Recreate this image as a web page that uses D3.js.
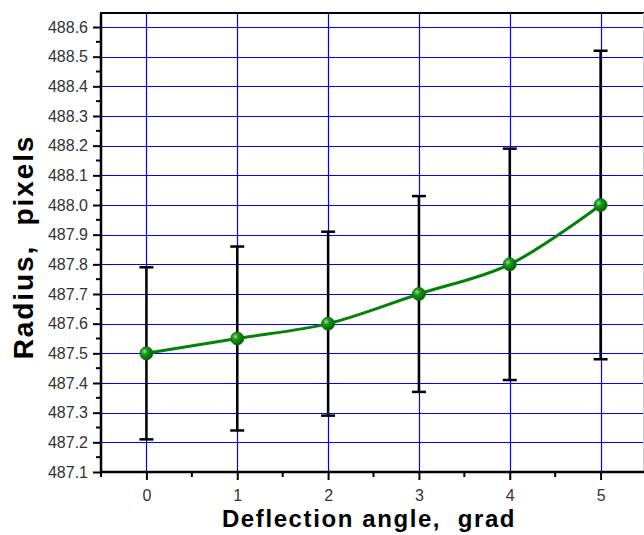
<!DOCTYPE html>
<html><head><meta charset="utf-8">
<script src="https://cdn.jsdelivr.net/npm/d3@7"></script>
<style>html,body{margin:0;padding:0;background:#fff;overflow:hidden}</style>
</head><body><svg id="c" width="644" height="535"></svg>
<script>
const angles = [0, 1, 2, 3, 4, 5];
const radius = [487.5, 487.55, 487.6, 487.7, 487.8, 488.0];
const errLow = [487.21, 487.24, 487.29, 487.37, 487.41, 487.48];
const errHigh = [487.79, 487.86, 487.91, 488.03, 488.19, 488.52];
const yTicks = [487.1, 487.2, 487.3, 487.4, 487.5, 487.6, 487.7, 487.8, 487.9, 488.0, 488.1, 488.2, 488.3, 488.4, 488.5, 488.6];
const xTicks = [0, 1, 2, 3, 4, 5];

const svg = d3.select("#c");
const x = d3.scaleLinear().domain([-0.5, 5.5]).range([101, 646]);
const y = d3.scaleLinear().domain([487.1, 488.6]).range([472, 27]);
const topY = 13;
const FONT = "Arial, 'Liberation Sans', sans-serif";

const defs = svg.append("defs");
const grad = defs.append("radialGradient").attr("id", "g").attr("cx", "35%").attr("cy", "35%").attr("r", "65%");
grad.append("stop").attr("offset", "0%").attr("stop-color", "#9fdc9f");
grad.append("stop").attr("offset", "35%").attr("stop-color", "#1e9a1e");
grad.append("stop").attr("offset", "100%").attr("stop-color", "#006400");

// grid
const grid = svg.append("g");
grid.selectAll("line.h").data(yTicks.slice(1)).join("line")
  .attr("x1", 101).attr("x2", 646).attr("y1", d => Math.round(y(d)) + 0.5).attr("y2", d => Math.round(y(d)) + 0.5)
  .attr("stroke", "#0000ff").attr("stroke-width", 1.2);
grid.selectAll("line.v").data(xTicks).join("line")
  .attr("y1", topY).attr("y2", 472).attr("x1", d => Math.round(x(d)) + 0.5).attr("x2", d => Math.round(x(d)) + 0.5)
  .attr("stroke", "#0000ff").attr("stroke-width", 1.2);

// frame
svg.append("line").attr("x1", 100).attr("x2", 646).attr("y1", topY).attr("y2", topY).attr("stroke", "#000").attr("stroke-width", 2);
svg.append("line").attr("x1", 643.5).attr("x2", 643.5).attr("y1", topY).attr("y2", 472).attr("stroke", "#ccc").attr("stroke-width", 1);

// y axis
const yAxis = d3.axisLeft(y).tickValues(yTicks).tickSize(8).tickPadding(5).tickFormat(d3.format(".1f"));
const ya = svg.append("g").attr("transform", "translate(101,0)").call(yAxis);
const yMinor = d3.range(487.15, 488.65, 0.1);
ya.selectAll("line.minor").data(yMinor).join("line").attr("class", "minor")
  .attr("x1", 0).attr("x2", -5).attr("y1", d => y(d)).attr("y2", d => y(d)).attr("stroke", "#000").attr("stroke-width", 2);
ya.select(".domain").attr("d", `M0,${topY}V472`).attr("stroke-width", 2.5);
ya.selectAll(".tick line").attr("stroke-width", 2);
ya.selectAll(".tick text").attr("font-family", FONT).attr("font-size", 16).attr("fill", "#333");

// x axis
const xAxis = d3.axisBottom(x).tickValues(xTicks).tickSize(8).tickPadding(10).tickFormat(d3.format("d"));
const xa = svg.append("g").attr("transform", "translate(0,472)").call(xAxis);
const xMinor = [-0.5, 0.5, 1.5, 2.5, 3.5, 4.5];
xa.selectAll("line.minor").data(xMinor).join("line").attr("class", "minor")
  .attr("y1", 0).attr("y2", 5).attr("x1", d => x(d)).attr("x2", d => x(d)).attr("stroke", "#000").attr("stroke-width", 2);
xa.select(".domain").attr("d", "M100,0H646").attr("stroke-width", 2.5);
xa.selectAll(".tick line").attr("stroke-width", 2);
xa.selectAll(".tick text").attr("font-family", FONT).attr("font-size", 16).attr("fill", "#333");

// error bars
const eb = svg.append("g").attr("stroke", "#000").attr("stroke-width", 2.5);
angles.forEach((a, i) => {
  const cx = x(a);
  eb.append("line").attr("x1", cx).attr("x2", cx).attr("y1", y(errLow[i])).attr("y2", y(errHigh[i]));
  eb.append("line").attr("x1", cx - 7).attr("x2", cx + 7).attr("y1", y(errLow[i])).attr("y2", y(errLow[i]));
  eb.append("line").attr("x1", cx - 7).attr("x2", cx + 7).attr("y1", y(errHigh[i])).attr("y2", y(errHigh[i]));
});

// line
const line = d3.line().x((d, i) => x(angles[i])).y(d => y(d)).curve(d3.curveCatmullRom);
svg.append("path").datum(radius).attr("d", line).attr("fill", "none").attr("stroke", "#078007").attr("stroke-width", 3);

// points
svg.selectAll("circle.pt").data(radius).join("circle").attr("class", "pt")
  .attr("cx", (d, i) => x(angles[i])).attr("cy", d => y(d)).attr("r", 6.5)
  .attr("fill", "url(#g)").attr("stroke", "#007000").attr("stroke-width", 0.8);

// titles
svg.append("text").attr("x", 369).attr("y", 527).attr("text-anchor", "middle")
  .attr("font-family", FONT).attr("font-weight", "bold").attr("font-size", 24)
  .attr("letter-spacing", 1.6).style("white-space", "pre")
  .text("Deflection angle,  grad");
svg.append("text").attr("transform", "translate(33,247) rotate(-90)").attr("text-anchor", "middle")
  .attr("font-family", FONT).attr("font-weight", "bold").attr("font-size", 28)
  .attr("letter-spacing", 1.9).style("white-space", "pre")
  .text("Radius,  pixels");
</script></body></html>
